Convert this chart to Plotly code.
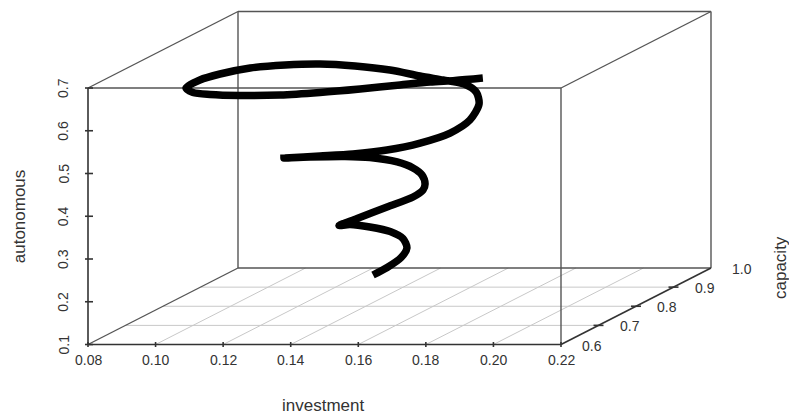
import plotly.graph_objects as go

# ---------------- data ----------------
investment = [0.1466, 0.1499, 0.1527, 0.1522, 0.1479, 0.1419, 0.1359, 0.1327, 0.1321, 0.1419,
              0.1543, 0.1620, 0.1614, 0.1589, 0.1540, 0.1469, 0.1391, 0.1297, 0.1250, 0.1191,
              0.1158, 0.1318, 0.1460, 0.1596, 0.1712, 0.1792, 0.1806, 0.1771, 0.1718, 0.1647,
              0.1549, 0.1445, 0.1321, 0.1191, 0.1078, 0.0984, 0.0907, 0.0862, 0.0847, 0.0868,
              0.0933, 0.1028, 0.1170, 0.1324, 0.1451, 0.1561, 0.1670, 0.1741, 0.1802, 0.1871]
capacity = [0.760, 0.768, 0.780, 0.800, 0.828, 0.848, 0.848, 0.824, 0.800, 0.760,
            0.728, 0.728, 0.760, 0.788, 0.824, 0.864, 0.892, 0.904, 0.880, 0.840,
            0.800, 0.752, 0.712, 0.680, 0.664, 0.672, 0.712, 0.768, 0.808, 0.840,
            0.872, 0.904, 0.936, 0.960, 0.968, 0.960, 0.936, 0.896, 0.856, 0.800,
            0.760, 0.720, 0.672, 0.640, 0.632, 0.640, 0.648, 0.664, 0.676, 0.688]
autonomous = [0.1910, 0.2050, 0.2230, 0.2363, 0.2460, 0.2534, 0.2639, 0.2805, 0.2889, 0.3232,
              0.3644, 0.3878, 0.3898, 0.3913, 0.3963, 0.3948, 0.3963, 0.4014, 0.4145, 0.4312,
              0.4468, 0.4729, 0.4955, 0.5192, 0.5427, 0.5625, 0.5750, 0.5874, 0.5976, 0.6020,
              0.5970, 0.5921, 0.5918, 0.5904, 0.5915, 0.5928, 0.5965, 0.6003, 0.6042, 0.6105,
              0.6179, 0.6311, 0.6503, 0.6657, 0.6752, 0.6798, 0.6856, 0.6854, 0.6836, 0.6840]

inv_ticks = [0.08, 0.10, 0.12, 0.14, 0.16, 0.18, 0.20, 0.22]
inv_labels = ["0.08", "0.10", "0.12", "0.14", "0.16", "0.18", "0.20", "0.22"]
cap_ticks = [0.6, 0.7, 0.8, 0.9, 1.0]
cap_labels = ["0.6", "0.7", "0.8", "0.9", "1.0"]
aut_ticks = [0.1, 0.2, 0.3, 0.4, 0.5, 0.6, 0.7]
aut_labels = ["0.1", "0.2", "0.3", "0.4", "0.5", "0.6", "0.7"]

x_title, y_title, z_title = "investment", "capacity", "autonomous"

# ---------------- layout geometry (pixels) ----------------
W, H = 789, 414
L_PX, R_PX = 88, 561          # front face left / right
ZB_PX, ZT_PX = 344.5, 88      # front face bottom / top
DX_PX, DY_PX = 150, 76.5      # oblique shift of full depth (right, up)

x0, x1 = min(inv_ticks), max(inv_ticks)
y0, y1 = min(cap_ticks), max(cap_ticks)
z0, z1 = min(aut_ticks), max(aut_ticks)
kx = (x1 - x0) / (R_PX - L_PX)    # data units per pixel (horizontal)
kz = (z1 - z0) / (ZB_PX - ZT_PX)  # data units per pixel (vertical)


def proj(x, y, z):
    d = (y - y0) / (y1 - y0)
    return x + d * DX_PX * kx, z + d * DY_PX * kz


def seg_trace(segs, color, width):
    xs, ys = [], []
    for a, b in segs:
        pa, pb = proj(*a), proj(*b)
        xs += [pa[0], pb[0], None]
        ys += [pa[1], pb[1], None]
    return go.Scatter(x=xs, y=ys, mode="lines", line=dict(color=color, width=width),
                      hoverinfo="skip", showlegend=False)


fig = go.Figure()

# floor grid
grid = []
for v in cap_ticks[1:-1]:
    grid.append(((x0, v, z0), (x1, v, z0)))
for v in inv_ticks[1:-1]:
    grid.append(((v, y0, z0), (v, y1, z0)))
fig.add_trace(seg_trace(grid, "#c8c8c8", 1))

# box
box = []
for (ya, za) in [(y0, z1), (y1, z0), (y1, z1)]:
    box.append(((x0, ya, za), (x1, ya, za)))
for (xa, ya) in [(x1, y0), (x0, y1), (x1, y1)]:
    box.append(((xa, ya, z0), (xa, ya, z1)))
for (xa, za) in [(x0, z0), (x0, z1), (x1, z1)]:
    box.append(((xa, y0, za), (xa, y1, za)))
fig.add_trace(seg_trace(box, "#555555", 1.4))

# axes (front bottom, left vertical, right depth)
axes = [((x0, y0, z0), (x1, y0, z0)),
        ((x0, y0, z0), (x0, y0, z1)),
        ((x1, y0, z0), (x1, y1, z0))]
fig.add_trace(seg_trace(axes, "#333333", 1.6))

# tick marks
tx, ty = [], []
for v in inv_ticks:
    px, pz = proj(v, y0, z0)
    tx += [px, px, None]
    ty += [pz + 2.5 * kz, pz - 2.5 * kz, None]
for v in aut_ticks:
    px, pz = proj(x0, y0, v)
    tx += [px - 3 * kx, px + 5 * kx, None]
    ty += [pz, pz, None]
for v in cap_ticks[1:-1]:
    px, pz = proj(x1, v, z0)
    tx += [px - 5 * kx, px + 5 * kx, None]
    ty += [pz, pz, None]
fig.add_trace(go.Scatter(x=tx, y=ty, mode="lines", line=dict(color="#333333", width=1.6),
                         hoverinfo="skip", showlegend=False))

# the trajectory
hx, hz = [], []
for a, b, c in zip(investment, capacity, autonomous):
    p = proj(a, b, c)
    hx.append(p[0])
    hz.append(p[1])
fig.add_trace(go.Scatter(x=hx, y=hz, mode="lines",
                         line=dict(color="black", width=7.5, shape="spline", smoothing=0.8),
                         hoverinfo="skip", showlegend=False))

FONT = "Liberation Sans, Arial, sans-serif"
TXT = "#333333"
ann = []
for v, t in zip(inv_ticks, inv_labels):
    px, pz = proj(v, y0, z0)
    ann.append(dict(x=px, y=pz - 15.5 * kz, text=t, showarrow=False, xanchor="center",
                    yanchor="middle", font=dict(size=14, color=TXT, family=FONT)))
for v, t in zip(aut_ticks, aut_labels):
    px, pz = proj(x0, y0, v)
    ann.append(dict(x=px - 25 * kx, y=pz, text=t, showarrow=False, textangle=-90,
                    xanchor="center", yanchor="middle",
                    font=dict(size=14, color=TXT, family=FONT)))
for v, t in zip(cap_ticks, cap_labels):
    px, pz = proj(x1, v, z0)
    ann.append(dict(x=px + 31 * kx, y=pz - 1 * kz, text=t, showarrow=False,
                    xanchor="center", yanchor="middle",
                    font=dict(size=14, color=TXT, family=FONT)))

px, pz = proj((x0 + x1) / 2, y0, z0)
ann.append(dict(x=px - 1.5 * kx, y=pz - 60.5 * kz, text=x_title, showarrow=False,
                xanchor="center", yanchor="middle", font=dict(size=17, color=TXT, family=FONT)))
px, pz = proj(x0, y0, (z0 + z1) / 2)
ann.append(dict(x=px - 69 * kx, y=pz, text=z_title, showarrow=False, textangle=-90,
                xanchor="center", yanchor="middle", font=dict(size=17, color=TXT, family=FONT)))
px, pz = proj(x1, y1, z0)
ann.append(dict(x=px + 69 * kx, y=pz, text=y_title, showarrow=False, textangle=-90,
                xanchor="center", yanchor="middle", font=dict(size=17, color=TXT, family=FONT)))

fig.update_layout(
    width=W, height=H,
    margin=dict(l=0, r=0, t=0, b=0),
    paper_bgcolor="white", plot_bgcolor="white",
    xaxis=dict(range=[x0 - L_PX * kx, x0 + (W - L_PX) * kx], visible=False, fixedrange=True),
    yaxis=dict(range=[z0 - (H - ZB_PX) * kz, z0 + ZB_PX * kz], visible=False, fixedrange=True),
    annotations=ann,
    showlegend=False,
)

fig.write_html("out.html", config={"displayModeBar": False},
               post_script="document.body.style.margin='0';document.body.style.overflow='hidden';")
